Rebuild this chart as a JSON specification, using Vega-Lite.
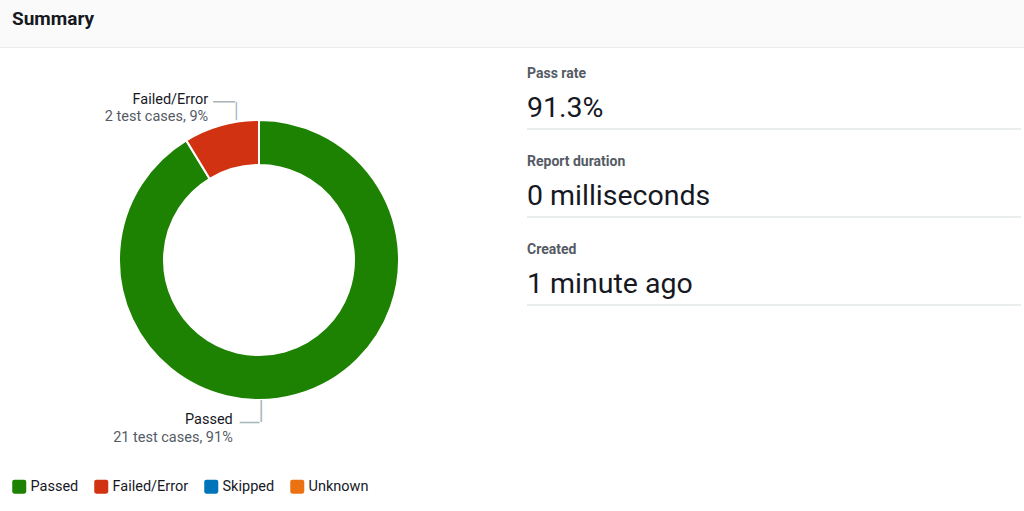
{
  "$schema": "https://vega.github.io/schema/vega-lite/v6.json",
  "background": "white",
  "padding": 0,
  "spacing": 0,
  "config": {"view": {"stroke": null}, "font": "Roboto", "concat": {"spacing": 0}},
  "vconcat": [
    {
      "width": 1024,
      "height": 47,
      "view": {"fill": "#fafafa", "stroke": null},
      "title": {"text": "Summary", "anchor": "start", "dx": 12, "offset": -29, "fontSize": 19, "fontWeight": "bold", "color": "#16191f", "font": "Roboto"},
      "data": {"values": []},
      "mark": {"type": "rule"},
      "encoding": {}
    },
    {
      "width": 1024,
      "height": 1,
      "view": {"fill": "#eaeded", "stroke": null},
      "data": {"values": []},
      "mark": {"type": "rule"},
      "encoding": {}
    },
    {
      "spacing": 8,
      "hconcat": [
        {
          "width": 518,
          "height": 424,
          "data": {"values": [
            {"status": "Passed", "count": 21, "detail": "21 test cases, 91%"},
            {"status": "Failed/Error", "count": 2, "detail": "2 test cases, 9%"},
            {"status": "Skipped", "count": 0, "detail": "0 test cases, 0%"},
            {"status": "Unknown", "count": 0, "detail": "0 test cases, 0%"}
          ]},
          "encoding": {
            "theta": {"field": "count", "type": "quantitative", "stack": true},
            "order": {"field": "count", "type": "quantitative", "sort": "descending"}
          },
          "layer": [
            {
              "mark": {"type": "arc", "outerRadius": 140, "innerRadius": 95, "stroke": "white", "strokeWidth": 2},
              "encoding": {
                "color": {
                  "field": "status", "type": "nominal",
                  "scale": {"domain": ["Passed", "Failed/Error", "Skipped", "Unknown"], "range": ["#1d8102", "#d13212", "#0073bb", "#ec7211"]},
                  "legend": {
                    "orient": "none", "legendX": 12, "legendY": 479, "direction": "horizontal", "title": null,
                    "symbolType": "M-1,-0.7Q-1,-1,-0.7,-1L0.7,-1Q1,-1,1,-0.7L1,0.7Q1,1,0.7,1L-0.7,1Q-1,1,-1,0.7Z",
                    "symbolSize": 196, "symbolStrokeWidth": 0, "symbolOpacity": 1,
                    "labelFontSize": 14.5, "labelColor": "#16191f", "labelFont": "Roboto",
                    "columnPadding": 15, "labelOffset": 4
                  }
                }
              }
            },
            {
              "mark": {"type": "text", "radius": 166, "align": "right", "baseline": "middle", "dx": -6, "fontSize": 14.5, "color": "#16191f"},
              "encoding": {"detail": {"field": "status"}, "text": {"condition": {"test": "datum.status === 'Failed/Error'", "field": "status"}, "value": ""}}
            },
            {
              "mark": {"type": "text", "radius": 166, "align": "right", "baseline": "middle", "dx": -6, "dy": 17, "fontSize": 14.5, "color": "#545b64"},
              "encoding": {"detail": {"field": "status"}, "text": {"condition": {"test": "datum.status === 'Failed/Error'", "field": "detail"}, "value": ""}}
            },
            {
              "mark": {"type": "text", "radius": 166, "align": "right", "baseline": "middle", "dx": -71, "fontSize": 14.5, "color": "#16191f"},
              "encoding": {"detail": {"field": "status"}, "text": {"condition": {"test": "datum.status === 'Passed'", "field": "status"}, "value": ""}}
            },
            {
              "mark": {"type": "text", "radius": 166, "align": "right", "baseline": "middle", "dx": -71, "dy": 18, "fontSize": 14.5, "color": "#545b64"},
              "encoding": {"detail": {"field": "status"}, "text": {"condition": {"test": "datum.status === 'Passed'", "field": "detail"}, "value": ""}}
            },
            {
              "mark": {"type": "text", "radius": 166, "align": "center", "baseline": "middle", "dx": 9.8, "dy": 3, "fontSize": 18, "font": "DejaVu Sans Mono", "color": "#aab7b8"},
              "encoding": {"detail": {"field": "status"}, "text": {"condition": {"test": "datum.status === 'Failed/Error'", "value": "──"}, "value": ""}}
            },
            {
              "mark": {"type": "text", "radius": 166, "align": "center", "baseline": "middle", "angle": 90, "dx": 10.8, "dy": -21.3, "fontSize": 15, "font": "DejaVu Sans Mono", "color": "#aab7b8"},
              "encoding": {"detail": {"field": "status"}, "text": {"condition": {"test": "datum.status === 'Failed/Error'", "value": "──"}, "value": ""}}
            },
            {
              "mark": {"type": "text", "radius": 166, "align": "center", "baseline": "middle", "dx": -54.3, "dy": 3, "fontSize": 16, "font": "DejaVu Sans Mono", "color": "#aab7b8"},
              "encoding": {"detail": {"field": "status"}, "text": {"condition": {"test": "datum.status === 'Passed'", "value": "──"}, "value": ""}}
            },
            {
              "mark": {"type": "text", "radius": 166, "align": "center", "baseline": "middle", "angle": 90, "dx": -8.8, "dy": 43.8, "fontSize": 18, "font": "DejaVu Sans Mono", "color": "#aab7b8"},
              "encoding": {"detail": {"field": "status"}, "text": {"condition": {"test": "datum.status === 'Passed'", "value": "──"}, "value": ""}}
            }
          ]
        },
        {
          "width": 494,
          "height": {"step": 88},
          "data": {"values": [
            {"metric": "Pass rate", "value": "91.3%"},
            {"metric": "Report duration", "value": "0 milliseconds"},
            {"metric": "Created", "value": "1 minute ago"}
          ]},
          "encoding": {
            "y": {"field": "metric", "type": "nominal", "sort": null, "axis": null, "scale": {"type": "band", "paddingInner": 0, "paddingOuter": 0}}
          },
          "layer": [
            {
              "mark": {"type": "rule", "color": "#eaeded", "strokeWidth": 2},
              "encoding": {"y": {"field": "metric", "type": "nominal", "sort": null, "axis": null, "bandPosition": 0.92, "scale": {"type": "band", "paddingInner": 0, "paddingOuter": 0}}}
            },
            {
              "mark": {"type": "text", "align": "left", "baseline": "alphabetic", "fontSize": 14, "fontWeight": "bold", "color": "#545b64"},
              "encoding": {
                "x": {"datum": 0, "type": "quantitative", "scale": {"domain": [0, 1]}, "axis": null},
                "y": {"field": "metric", "type": "nominal", "sort": null, "axis": null, "bandPosition": 0.3375, "scale": {"type": "band", "paddingInner": 0, "paddingOuter": 0}},
                "text": {"field": "metric"}
              }
            },
            {
              "mark": {"type": "text", "align": "left", "baseline": "alphabetic", "fontSize": 28.5, "color": "#16191f"},
              "encoding": {
                "x": {"datum": 0, "type": "quantitative", "scale": {"domain": [0, 1]}, "axis": null},
                "y": {"field": "metric", "type": "nominal", "sort": null, "axis": null, "bandPosition": 0.7875, "scale": {"type": "band", "paddingInner": 0, "paddingOuter": 0}},
                "text": {"field": "value"}
              }
            }
          ]
        }
      ]
    }
  ]
}
